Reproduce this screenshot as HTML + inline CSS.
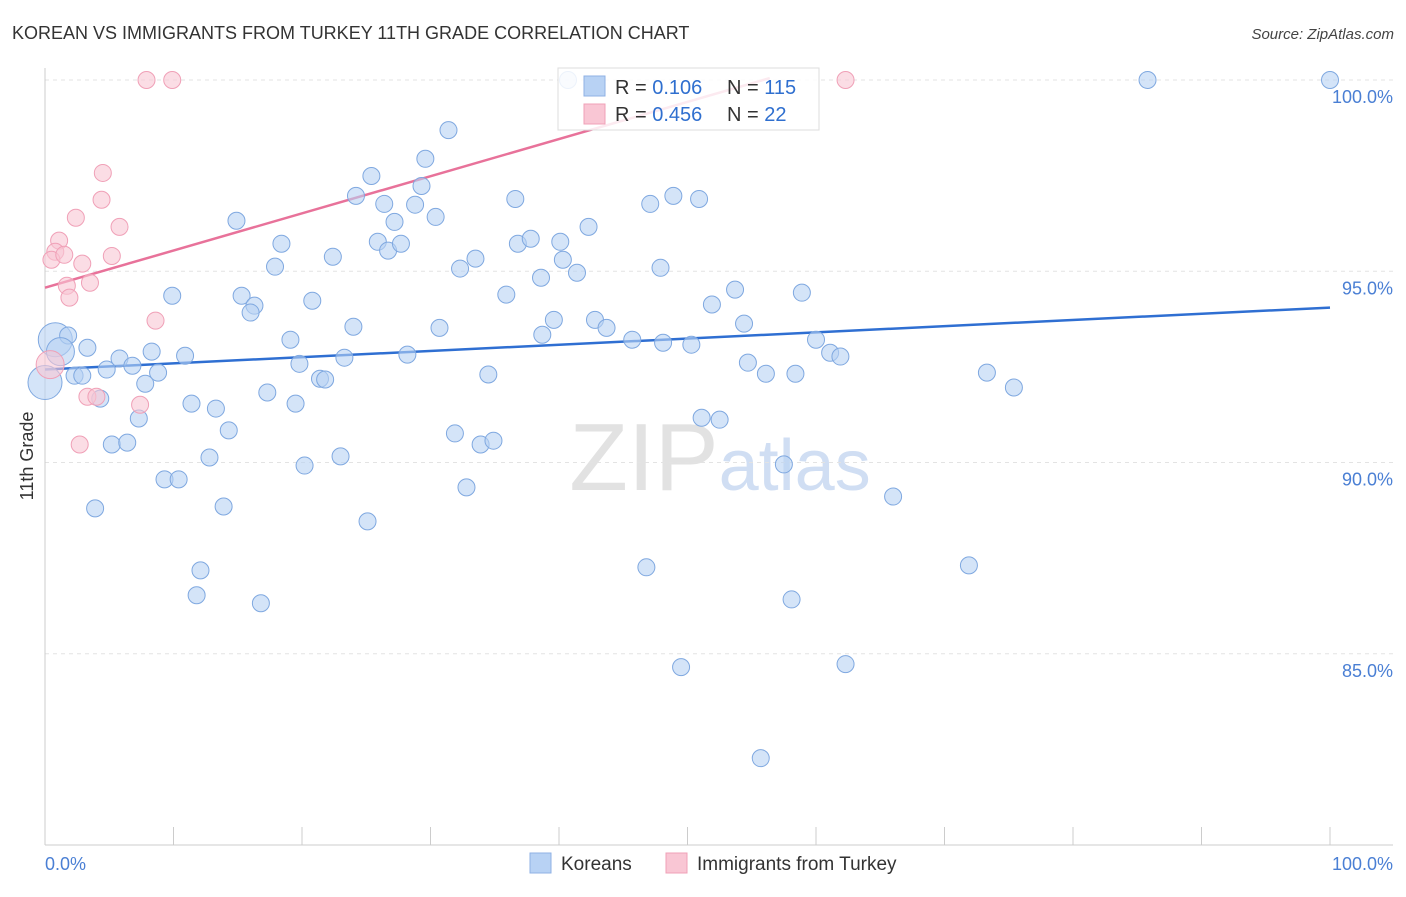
<!DOCTYPE html>
<html><head><meta charset="utf-8"><style>
body{margin:0;background:#fff;font-family:"Liberation Sans",sans-serif}
svg text{font-family:"Liberation Sans",sans-serif}
</style></head><body>
<svg id="chart" width="1406" height="892" viewBox="0 0 1406 892" xmlns="http://www.w3.org/2000/svg">
<text x="12" y="39" font-size="18" fill="#333">KOREAN VS IMMIGRANTS FROM TURKEY 11TH GRADE CORRELATION CHART</text>
<text x="1394" y="39" font-size="15" fill="#444" text-anchor="end" font-style="italic">Source: ZipAtlas.com</text>
<text x="720" y="490" font-size="96" text-anchor="middle" fill="#e2e2e2" font-family="Liberation Serif">ZIP<tspan fill="#d0def3" font-family="Liberation Sans" font-size="72">atlas</tspan></text>
<g id="grid"></g>
<g id="axes"></g>
<g id="trends"></g>
<g id="points"></g>
<text transform="translate(33,456) rotate(-90)" font-size="18" fill="#333" text-anchor="middle">11th Grade</text>
<text x="45" y="870" font-size="18" fill="#4a7fd4">0.0%</text>
<text x="1393" y="870" font-size="18" fill="#4a7fd4" text-anchor="end">100.0%</text>
<g>
<rect x="558" y="68" width="261" height="62" fill="#fff" fill-opacity="0.85" stroke="#ddd"/>
<rect x="584" y="76" width="21" height="20" fill="#b8d2f4" stroke="#8fb1e4"/>
<rect x="584" y="104" width="21" height="20" fill="#f9c6d4" stroke="#f0a0b7"/>
<text x="615" y="94" font-size="20" fill="#333">R = <tspan fill="#2f6fcf">0.106</tspan></text>
<text x="727" y="94" font-size="20" fill="#333">N = <tspan fill="#2f6fcf">115</tspan></text>
<text x="615" y="121" font-size="20" fill="#333">R = <tspan fill="#2f6fcf">0.456</tspan></text>
<text x="727" y="121" font-size="20" fill="#333">N = <tspan fill="#2f6fcf"> 22</tspan></text>
</g>
<g>
<rect x="530" y="853" width="21" height="20" fill="#b8d2f4" stroke="#8fb1e4"/>
<text x="561" y="870" font-size="19" fill="#333">Koreans</text>
<rect x="666" y="853" width="21" height="20" fill="#f9c6d4" stroke="#f0a0b7"/>
<text x="697" y="870" font-size="19" fill="#333">Immigrants from Turkey</text>
</g>
</svg>
<script>
const yTicks=[100,95,90,85];
const yTickLabels=["100.0%","95.0%","90.0%","85.0%"];
const xTicks=[0,10,20,30,40,50,60,70,80,90,100];
const koreanX=[0.8,1.8,1.2,0,3.3,2.3,2.9,4.3,4.8,5.2,6.4,5.8,6.8,7.8,8.3,8.8,7.3,3.9,9.3,10.4,9.9,10.9,11.4,12.8,13.3,13.9,14.3,12.1,11.8,16.8,14.9,15.3,16.3,16.0,17.3,17.9,18.4,19.1,19.5,19.8,20.2,20.8,21.4,21.8,22.4,23.0,23.3,24.0,24.2,25.1,25.4,25.9,26.4,26.7,27.2,27.7,28.2,28.8,29.3,29.6,30.4,30.7,31.4,31.9,32.3,32.8,33.5,33.9,34.5,34.9,35.9,36.6,36.8,37.8,38.6,38.7,39.6,40.1,40.3,41.4,42.3,42.8,43.7,45.7,46.8,47.1,47.9,48.1,48.9,49.5,50.3,50.9,51.1,51.9,52.5,53.7,54.4,54.7,55.7,56.1,57.5,58.1,58.4,58.9,60.0,61.1,61.9,62.3,66.0,71.9,73.3,75.4,85.8,100,40.7];
const koreanY=[93.21,93.32,92.90,92.09,93.00,92.27,92.27,91.67,92.43,90.47,90.52,92.72,92.53,92.06,92.90,92.35,91.15,88.80,89.56,89.56,94.36,92.79,91.54,90.13,91.41,88.85,90.84,87.18,86.53,86.32,96.32,94.36,94.10,93.92,91.83,95.12,95.72,93.21,91.54,92.58,89.92,94.23,92.19,92.17,95.38,90.16,92.74,93.55,96.97,88.46,97.49,95.77,96.76,95.54,96.29,95.72,92.82,96.74,97.23,97.94,96.42,93.52,98.69,90.76,95.07,89.35,95.33,90.47,92.30,90.57,94.39,96.89,95.72,95.85,94.83,93.34,93.73,95.77,95.30,94.96,96.16,93.73,93.52,93.21,87.26,96.76,95.09,93.13,96.97,84.65,93.08,96.89,91.17,94.13,91.12,94.52,93.63,92.61,82.27,92.32,89.95,86.42,92.32,94.44,93.21,92.87,92.77,84.73,89.11,87.31,92.35,91.96,100,100,100];
const koreanBig=[17,0,14,17];
const turkeyX=[7.9,9.9,62.3,4.5,4.4,5.8,2.4,1.1,0.8,0.5,1.5,5.2,2.9,3.5,1.7,1.9,8.6,0.4,7.4,3.3,4.0,2.7];
const turkeyY=[100,100,100,97.57,96.87,96.16,96.40,95.80,95.51,95.30,95.43,95.40,95.20,94.70,94.62,94.31,93.71,92.56,91.51,91.72,91.72,90.47];
const koreanTrend=[[0,92.43],[100,94.05]];
const turkeyTrend=[[0,94.57],[56.4,100.05]];
const NS='http://www.w3.org/2000/svg';
const xS=v=>45+v*12.85;
const yS=v=>845-(v-80)*38.25;
function mk(tag,attrs,parent){const e=document.createElementNS(NS,tag);for(const k in attrs)e.setAttribute(k,attrs[k]);parent.appendChild(e);return e;}
const grid=document.getElementById('grid'),axes=document.getElementById('axes'),pts=document.getElementById('points'),tr=document.getElementById('trends');
yTicks.forEach((t,i)=>{
 const l=mk('line',{x1:45,x2:1393,y1:yS(t),y2:yS(t),stroke:'#e3e3e3','stroke-dasharray':'4,4'},grid);
 
 
 const tx=mk('text',{x:1393,y:yS(t)+23,'font-size':18,fill:'#4a7fd4','text-anchor':'end'},axes);
 tx.textContent=yTickLabels[i];
 
 
});
const ax=mk('line',{x1:45,x2:1393,y1:845,y2:845,stroke:'#ccc'},axes);


const ay=mk('line',{x1:45,x2:45,y1:68,y2:845,stroke:'#ccc'},axes);


xTicks.forEach(t=>{
 const l=mk('line',{x1:xS(t),x2:xS(t),y1:827,y2:845,stroke:'#ccc'},axes);
 
 
});
koreanX.forEach((x,i)=>{
 const r=koreanBig[i]||8.5;
 const c=mk('circle',{cx:xS(x),cy:yS(koreanY[i]),r:r,fill:'#b8d2f4','fill-opacity':0.6,stroke:'#7fa8e0','stroke-width':1},pts);
 
 
});
turkeyX.forEach((x,i)=>{
 const r=i===17?14:8.5;
 const c=mk('circle',{cx:xS(x),cy:yS(turkeyY[i]),r:r,fill:'#f9c6d4','fill-opacity':0.6,stroke:'#f0a0b7','stroke-width':1},pts);
 
 
});
const kl=mk('line',{x1:xS(koreanTrend[0][0]),y1:yS(koreanTrend[0][1]),x2:xS(koreanTrend[1][0]),y2:yS(koreanTrend[1][1]),stroke:'#2f6fd2','stroke-width':2.5},tr);


const tl=mk('line',{x1:xS(turkeyTrend[0][0]),y1:yS(turkeyTrend[0][1]),x2:xS(turkeyTrend[1][0]),y2:yS(turkeyTrend[1][1]),stroke:'#e8729a','stroke-width':2.5},tr);


</script>
</body></html>
